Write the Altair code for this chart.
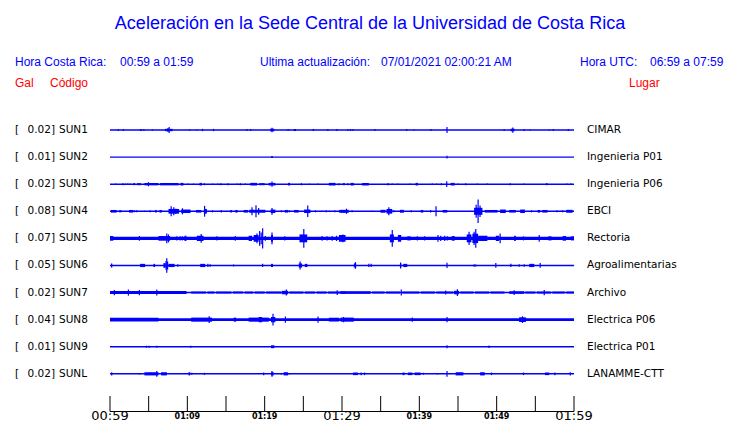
import altair as alt
import pandas as pd

# ---------------- data ----------------
codes = ["SUN1", "SUN2", "SUN3", "SUN4", "SUN5", "SUN6", "SUN7", "SUN8", "SUN9", "SUNL"]
peak_gal = [0.02, 0.01, 0.02, 0.08, 0.07, 0.05, 0.02, 0.04, 0.01, 0.02]
places = ["CIMAR", "Ingenieria P01", "Ingenieria P06", "EBCI", "Rectoria",
          "Agroalimentarias", "Archivo", "Electrica P06", "Electrica P01", "LANAMME-CTT"]

# events per station: (minute, half-amplitude gal) = single spike,
# (start minute, end minute, half-amplitude gal) = burst / band
SUN1 = [(1.08, 0.006), (1.73, 0.006), (3.9, 4.1, 0.007), (4.3, 4.45, 0.006), (5.49, 0.004),
        (7.1, 8.1, 0.008), (7.65, 0.02), (7.5, 0.014), (10.28, 0.004), (11.23, 0.004),
        (11.97, 0.008), (13.39, 0.008), (17.71, 0.007), (18.19, 0.007), (20.7, 21.25, 0.009),
        (20.95, 0.016), (22.9, 0.004), (23.11, 0.005), (23.76, 24.06, 0.007), (26.22, 26.39, 0.007),
        (28.17, 0.007), (29.33, 0.007), (30.75, 0.006), (31.1, 0.006), (31.4, 0.006),
        (34.25, 0.007), (38.3, 38.45, 0.007), (39.3, 0.004), (41.5, 0.007), (43.58, 0.02),
        (50.97, 0.006), (51.8, 52.3, 0.009), (52.09, 0.018), (53.56, 0.007), (54.34, 0.004),
        (56.8, 0.004), (57.32, 0.007), (59.26, 0.007)]
SUN2 = [(20.85, 21.05, 0.007), (43.58, 0.01)]
SUN3 = [(0.73, 0.004), (1.6, 1.77, 0.007), (2.03, 0.004), (2.29, 0.004), (2.59, 0.004),
        (3.0, 3.24, 0.007), (3.5, 4.0, 0.007), (4.45, 6.26, 0.008), (4.97, 0.014), (6.48, 8.86, 0.008),
        (9.1, 9.5, 0.009), (10.07, 0.004), (10.8, 0.004), (11.58, 11.88, 0.009), (12.2, 0.007),
        (13.26, 0.004), (13.95, 0.004), (14.34, 0.007), (15.25, 0.007), (16.42, 0.004),
        (16.85, 0.007), (17.5, 0.004), (18.14, 19.01, 0.009), (19.31, 20.0, 0.007),
        (20.52, 21.38, 0.009), (20.95, 0.018), (23.03, 23.28, 0.009), (24.75, 0.007),
        (25.79, 0.004), (26.91, 0.004), (28.3, 29.16, 0.009), (29.6, 0.007), (30.1, 30.37, 0.007),
        (30.75, 0.007), (31.1, 31.53, 0.009), (32.6, 33.47, 0.009), (35.85, 36.06, 0.007),
        (36.5, 0.004), (37.23, 0.004), (38.8, 0.004), (39.52, 39.82, 0.009), (41.68, 0.004),
        (42.24, 0.004), (42.85, 0.007), (43.54, 0.02), (44.06, 44.57, 0.009), (45.0, 0.004),
        (46.0, 0.007), (47.5, 0.004), (48.8, 0.004), (51.75, 0.007), (53.56, 0.004),
        (56.37, 56.58, 0.007), (59.09, 0.004), (59.6, 0.004)]
SUN4 = [(0.13, 0.86, 0.009), (1.17, 1.51, 0.007), (2.46, 3.0, 0.009), (3.15, 0.007), (3.46, 0.007),
        (4.45, 0.004), (5.18, 0.007), (5.83, 6.05, 0.009), (6.4, 6.7, 0.009), (7.56, 8.94, 0.016),
        (7.91, 0.034), (8.25, 0.027), (8.51, 0.018), (9.2, 10.41, 0.012), (9.37, 0.021),
        (11.1, 11.8, 0.009), (12.14, 12.53, 0.016), (12.23, 0.037), (13.26, 0.007), (14.39, 0.009),
        (15.12, 0.004), (15.55, 15.77, 0.009), (16.2, 16.5, 0.009), (17.28, 17.84, 0.009),
        (18.0, 20.09, 0.01), (18.36, 0.027), (18.88, 0.041), (19.22, 0.023), (20.78, 21.38, 0.012),
        (20.95, 0.023), (22.16, 0.007), (22.59, 23.03, 0.009), (23.2, 0.007), (23.8, 24.4, 0.009),
        (25.1, 25.92, 0.012), (25.57, 0.039), (26.57, 0.007), (27.35, 0.004), (27.95, 0.007),
        (28.38, 0.004), (29.07, 0.007), (29.6, 30.46, 0.009), (29.8, 30.88, 0.01), (30.58, 0.018),
        (31.31, 0.007), (33.9, 0.004), (34.98, 35.63, 0.01), (35.76, 36.5, 0.016), (36.06, 0.027),
        (36.71, 0.007), (37.49, 38.0, 0.01), (38.96, 0.007), (40.17, 40.51, 0.009), (40.95, 0.004),
        (41.46, 0.009), (42.16, 0.034), (43.02, 43.62, 0.009), (47.08, 48.16, 0.024), (47.6, 0.08),
        (47.35, 0.045), (47.85, 0.04), (48.46, 50.1, 0.009), (50.45, 51.18, 0.012),
        (51.62, 52.48, 0.009), (53.04, 53.65, 0.012), (54.51, 0.007), (55.29, 55.63, 0.009),
        (55.89, 56.58, 0.009), (57.79, 0.007), (58.23, 0.004), (58.53, 0.007), (59.0, 59.82, 0.01)]
SUN5 = [(0, 60, 0.011), (0, 0.43, 0.016), (3.8, 0.016), (6.26, 7.78, 0.016), (7.34, 0.034),
        (7.56, 0.027), (8.64, 0.014), (9.07, 0.014), (9.37, 0.014), (9.63, 9.89, 0.018),
        (11.23, 12.1, 0.018), (11.79, 0.03), (13.82, 0.014), (16.2, 0.016), (17.93, 18.36, 0.018),
        (18.58, 19.22, 0.023), (19.01, 0.034), (19.35, 0.05), (19.74, 0.07), (19.55, 0.04),
        (20.0, 20.17, 0.016), (20.82, 21.08, 0.023), (20.95, 0.041), (22.6, 0.014),
        (24.5, 25.5, 0.027), (25.06, 0.064), (27.43, 0.016), (28.08, 0.014), (28.73, 0.016),
        (29.29, 0.018), (29.6, 30.46, 0.023), (30.11, 0.027), (36.19, 36.71, 0.027), (36.5, 0.057),
        (37.23, 37.66, 0.023), (38.44, 38.87, 0.014), (39.74, 0.014), (40.69, 0.014),
        (42.41, 0.023), (42.76, 0.018), (43.28, 0.018), (43.62, 0.014), (44.19, 44.57, 0.016),
        (46.13, 46.73, 0.027), (46.43, 0.046), (46.86, 47.6, 0.032), (47.08, 0.046), (47.3, 0.064),
        (47.6, 48.8, 0.018), (49.89, 50.32, 0.018), (50.45, 0.034), (52.26, 52.48, 0.018),
        (53.47, 0.014), (55.5, 0.023), (56.67, 57.1, 0.014), (58.53, 58.96, 0.016),
        (59.6, 60.0, 0.014)]
SUN6 = [(0.13, 0.3, 0.014), (3.89, 4.54, 0.011), (5.62, 5.83, 0.011), (6.91, 7.2, 0.016),
        (7.34, 0.05), (7.25, 0.03), (7.45, 0.027), (7.56, 8.34, 0.011), (8.77, 0.009),
        (11.66, 12.31, 0.011), (12.66, 0.011), (12.96, 0.009), (15.98, 0.007), (19.74, 0.011),
        (20.82, 21.08, 0.011), (24.41, 24.84, 0.014), (24.58, 0.027), (25.19, 25.53, 0.011),
        (31.53, 31.83, 0.014), (31.74, 0.023), (33.47, 0.011), (33.77, 0.011), (37.49, 37.66, 0.014),
        (37.58, 0.021), (37.92, 38.44, 0.011), (43.58, 0.018), (47.08, 0.009), (47.3, 0.007),
        (49.89, 0.016), (51.75, 51.92, 0.011), (52.91, 0.009), (53.56, 0.009), (54.21, 54.86, 0.011),
        (55.63, 0.016)]
SUN7 = [(0, 9.9, 0.01), (10.5, 12.4, 0.007), (12.6, 13.5, 0.007), (13.7, 15.7, 0.007),
        (15.9, 17.2, 0.007), (17.4, 18.5, 0.007), (18.7, 20.0, 0.007), (20.2, 22.2, 0.007),
        (22.25, 23.03, 0.012), (23.2, 25.0, 0.007), (25.2, 26.5, 0.007), (26.7, 28.0, 0.007),
        (28.2, 30.5, 0.007), (29.8, 33.7, 0.009), (33.9, 35.5, 0.007), (35.7, 37.5, 0.007),
        (37.8, 40.0, 0.007), (40.2, 42.0, 0.007), (42.2, 44.4, 0.007), (44.49, 45.14, 0.012),
        (45.3, 47.0, 0.007), (47.2, 49.0, 0.007), (49.2, 51.0, 0.007), (51.62, 53.56, 0.009),
        (53.7, 55.0, 0.007), (55.2, 57.0, 0.007), (57.2, 58.8, 0.007), (59.0, 60.0, 0.007),
        (0.56, 0.018), (2.38, 0.021), (3.8, 0.018), (6.05, 0.021), (22.8, 0.021), (29.38, 0.016),
        (37.66, 0.021), (43.41, 0.014), (44.92, 0.023), (52.26, 0.016), (56.15, 0.018)]
SUN8 = [(0, 60, 0.01), (0, 6.26, 0.013), (10.5, 13.2, 0.014), (12.83, 0.023), (16.0, 16.3, 0.014),
        (17.93, 20.52, 0.014), (19.22, 19.66, 0.018), (20.82, 21.38, 0.018), (21.08, 0.04),
        (22.68, 0.021), (26.9, 0.021), (28.3, 29.6, 0.013), (29.8, 31.53, 0.014), (30.2, 0.018),
        (39.09, 0.014), (43.58, 0.018), (52.9, 53.78, 0.016), (53.34, 0.023)]
SUN9 = [(4.71, 0.007), (5.05, 0.007), (6.05, 0.007), (10.45, 0.007), (20.82, 21.25, 0.01),
        (43.58, 0.01), (49.02, 0.009)]
SUNL = [(0.22, 0.011), (3.8, 0.004), (4.45, 6.26, 0.011), (6.05, 0.02), (6.61, 7.35, 0.011),
        (10.15, 10.37, 0.011), (10.58, 0.007), (12.22, 0.007), (19.87, 0.009), (20.82, 21.17, 0.011),
        (20.95, 0.02), (22.16, 0.004), (22.46, 23.03, 0.011), (23.2, 0.004), (31.44, 32.05, 0.009),
        (32.48, 0.009), (32.91, 0.009), (37.84, 38.09, 0.009), (38.53, 39.09, 0.009),
        (39.39, 40.17, 0.009), (40.51, 0.007), (42.33, 0.004), (43.58, 0.02), (44.7, 45.7, 0.011),
        (47.86, 48.46, 0.011), (49.33, 0.009), (53.47, 0.009), (56.24, 56.8, 0.009),
        (57.53, 0.009), (59.52, 0.011)]
traces = [SUN1, SUN2, SUN3, SUN4, SUN5, SUN6, SUN7, SUN8, SUN9, SUNL]

tick_minutes = [0, 5, 10, 15, 20, 25, 30, 35, 40, 45, 50, 55, 60]
label_minutes = [0, 10, 20, 30, 40, 50, 60]
label_texts = ["00:59", "01:09", "01:19", "01:29", "01:39", "01:49", "01:59"]
label_major = [True, False, False, True, False, False, True]

title_text = "Aceleración en la Sede Central de la Universidad de Costa Rica"

# ---------------- tables ----------------
ROW = 0.1856  # gal between trace baselines
BLUE = "#0000ff"
RED = "#ff0000"

rows = pd.DataFrame({
    "code": codes,
    "gal": [f"{g:.2f}]" for g in peak_gal],
    "place": places,
    "center": [i * ROW for i in range(len(codes))],
})
rows["t0"] = 0
rows["t1"] = 60

blocks, spikes = [], []
for i, ev in enumerate(traces):
    c = i * ROW
    for e in ev:
        if len(e) == 3:
            blocks.append({"t0": e[0], "t1": e[1], "lo": c - e[2], "hi": c + e[2]})
        else:
            spikes.append({"t": e[0], "lo": c - e[1], "hi": c + e[1]})
blocks = pd.DataFrame(blocks)
spikes = pd.DataFrame(spikes)

xs = alt.Scale(domain=[0, 60])
ys = alt.Scale(domain=[-0.096, 1.932], reverse=True)

base_lines = alt.Chart(rows).mark_rule(color=BLUE, strokeWidth=1.4).encode(
    x=alt.X("t0:Q", scale=xs, axis=None), x2="t1:Q",
    y=alt.Y("center:Q", scale=ys, axis=None))

burst = alt.Chart(blocks).mark_rect(color=BLUE).encode(
    x=alt.X("t0:Q", scale=xs, axis=None), x2="t1:Q",
    y=alt.Y("lo:Q", scale=ys, axis=None), y2="hi:Q")

spike = alt.Chart(spikes).mark_rule(color=BLUE, strokeWidth=1.2).encode(
    x=alt.X("t:Q", scale=xs, axis=None),
    y=alt.Y("lo:Q", scale=ys, axis=None), y2="hi:Q")

lab_font = "DejaVu Sans"
bracket = alt.Chart(rows).mark_text(align="left", baseline="middle", font=lab_font,
                                    fontSize=10.5, color="black").encode(
    x=alt.value(-95), y=alt.Y("center:Q", scale=ys, axis=None), text=alt.value("["))
galtxt = alt.Chart(rows).mark_text(align="right", baseline="middle", font=lab_font,
                                   fontSize=10.5, color="black").encode(
    x=alt.value(-55), y=alt.Y("center:Q", scale=ys, axis=None), text="gal:N")
codetxt = alt.Chart(rows).mark_text(align="left", baseline="middle", font=lab_font,
                                    fontSize=10.5, color="black").encode(
    x=alt.value(-51), y=alt.Y("center:Q", scale=ys, axis=None), text="code:N")
placetxt = alt.Chart(rows).mark_text(align="left", baseline="middle", font=lab_font,
                                     fontSize=10.5, color="black").encode(
    x=alt.value(477), y=alt.Y("center:Q", scale=ys, axis=None), text="place:N")

# time axis drawn by hand (ticks point up, mixed label sizes)
ticks_df = pd.DataFrame({"m": tick_minutes})
labels_df = pd.DataFrame({"m": label_minutes, "lab": label_texts, "major": label_major})
axis_line = alt.Chart(pd.DataFrame({"a": [0], "b": [60]})).mark_rule(color="black", strokeWidth=1).encode(
    x=alt.X("a:Q", scale=xs, axis=None), x2="b:Q", y=alt.value(295.5))
axis_ticks = alt.Chart(ticks_df).mark_rule(color="black", strokeWidth=1).encode(
    x=alt.X("m:Q", scale=xs, axis=None), y=alt.value(280), y2=alt.value(295.5))
major_lab = alt.Chart(labels_df).transform_filter("datum.major").mark_text(
    font=lab_font, fontSize=13, color="black", baseline="alphabetic", align="center").encode(
    x=alt.X("m:Q", scale=xs, axis=None), y=alt.value(304), text="lab:N")
minor_lab = alt.Chart(labels_df).transform_filter("!datum.major").mark_text(
    font=lab_font, fontSize=8, fontWeight="bold", color="black", baseline="alphabetic",
    align="center").encode(
    x=alt.X("m:Q", scale=xs, axis=None), y=alt.value(303), text="lab:N")


def txt(s, x, y, color=BLUE, size=12, align="left", font="Liberation Sans"):
    return alt.Chart(pd.DataFrame({"s": [s]})).mark_text(
        align=align, baseline="middle", font=font, fontSize=size, color=color).encode(
        x=alt.value(x), y=alt.value(y), text="s:N")


header = [
    txt(title_text, 260, -92, size=18, align="center"),
    txt("Hora Costa Rica:", -95, -54),
    txt("00:59 a 01:59", 10, -54),
    txt("Ultima actualización:", 150, -54),
    txt("07/01/2021 02:00:21 AM", 271, -54),
    txt("Hora UTC:", 470, -54),
    txt("06:59 a 07:59", 540, -54),
    txt("Gal", -95, -33, color=RED),
    txt("Código", -60, -33, color=RED),
    txt("Lugar", 519, -33, color=RED),
]

chart = alt.layer(
    base_lines, burst, spike, bracket, galtxt, codetxt, placetxt,
    axis_line, axis_ticks, major_lab, minor_lab, *header
).properties(
    width=464, height=296,
    background="white",
    autosize=alt.AutoSizeParams(type="none"),
    padding={"left": 102, "top": 108, "right": 158, "bottom": 11},
).configure_view(stroke=None)

chart.save("out.html", embed_options={"renderer": "svg", "actions": False})
